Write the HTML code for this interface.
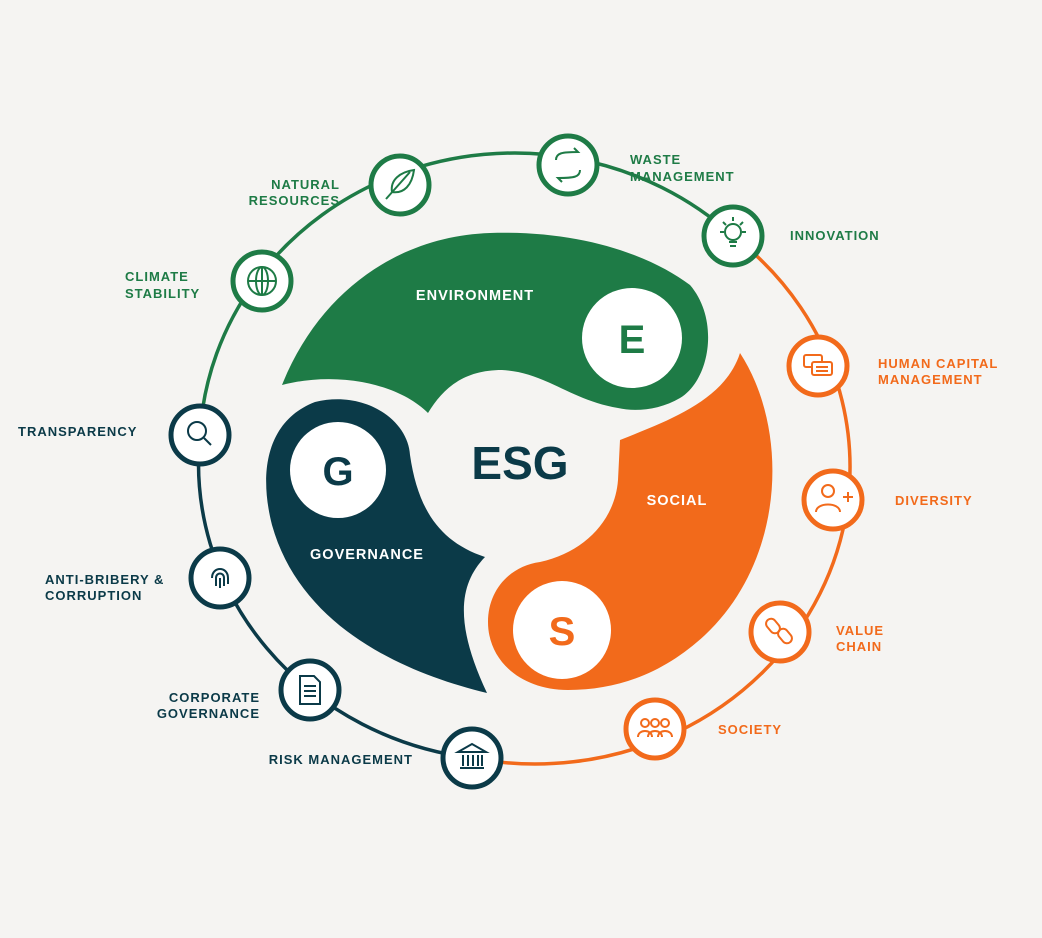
<!DOCTYPE html>
<html><head><meta charset="utf-8"><style>
html,body{margin:0;padding:0;background:#f5f4f2;}
svg{display:block}
.l{font-family:"Liberation Sans",sans-serif;font-weight:bold;font-size:13px;letter-spacing:1px}
.g{fill:#1e7b46}.o{fill:#f26a1b}.d{fill:#0b3a48}
</style></head><body>
<svg width="1042" height="938" viewBox="0 0 1042 938" xmlns="http://www.w3.org/2000/svg">
<rect width="1042" height="938" fill="#f5f4f2"/>
<!-- ring arcs -->
<path d="M200,435 A315,297 0 0 1 733,236" fill="none" stroke="#1e7b46" stroke-width="3.5"/>
<path d="M733,236 A315,297 0 0 1 472,758" fill="none" stroke="#f26a1b" stroke-width="3.5"/>
<path d="M472,758 A315,297 0 0 1 200,435" fill="none" stroke="#0b3a48" stroke-width="3.5"/>

<!-- blobs -->
<path d="M282,385 C320,290 400,236 490,233 C580,230 650,255 690,285 C720,320 710,380 680,398 C660,410 635,412 618,408 C570,400 545,372 502,370 C462,370 442,390 428,413 C400,385 340,370 282,385 Z" fill="#1e7b46"/>
<circle cx="632" cy="338" r="50" fill="#fff"/>
<path d="M740,353 C790,430 785,560 705,635 C665,672 620,690 568,690 C520,690 488,660 488,622 C488,590 510,566 540,562 C585,552 615,520 618,480 L620,440 C670,420 725,400 740,353 Z" fill="#f26a1b"/>
<circle cx="562" cy="630" r="49" fill="#fff"/>
<path d="M487,693 C400,672 300,625 272,525 C258,470 268,420 315,402 C365,390 408,420 410,455 C418,510 440,542 485,557 C458,585 455,625 487,693 Z" fill="#0b3a48"/>
<circle cx="338" cy="470" r="48" fill="#fff"/>

<g font-family="Liberation Sans,sans-serif" font-weight="bold" text-anchor="middle">
<text x="632" y="353" font-size="40" class="g">E</text>
<text x="562" y="645" font-size="40" class="o">S</text>
<text x="338" y="485" font-size="40" class="d">G</text>
<text x="520" y="479" font-size="46" class="d">ESG</text>
<text x="475" y="300" font-size="14.5" fill="#fff" letter-spacing="1">ENVIRONMENT</text>
<text x="677" y="505" font-size="14.5" fill="#fff" letter-spacing="1">SOCIAL</text>
<text x="367" y="559" font-size="14.5" fill="#fff" letter-spacing="1">GOVERNANCE</text>
</g>

<!-- nodes -->
<g fill="#fff" stroke-width="5">
<circle cx="262" cy="281" r="29" stroke="#1e7b46"/>
<circle cx="400" cy="185" r="29" stroke="#1e7b46"/>
<circle cx="568" cy="165" r="29" stroke="#1e7b46"/>
<circle cx="733" cy="236" r="29" stroke="#1e7b46"/>
<circle cx="818" cy="366" r="29" stroke="#f26a1b"/>
<circle cx="833" cy="500" r="29" stroke="#f26a1b"/>
<circle cx="780" cy="632" r="29" stroke="#f26a1b"/>
<circle cx="655" cy="729" r="29" stroke="#f26a1b"/>
<circle cx="472" cy="758" r="29" stroke="#0b3a48"/>
<circle cx="310" cy="690" r="29" stroke="#0b3a48"/>
<circle cx="220" cy="578" r="29" stroke="#0b3a48"/>
<circle cx="200" cy="435" r="29" stroke="#0b3a48"/>
</g>

<!-- icons -->
<g fill="none" stroke-width="2">
<g stroke="#1e7b46">
<circle cx="262" cy="281" r="14"/><ellipse cx="262" cy="281" rx="6" ry="14"/><line x1="248" y1="281" x2="276" y2="281"/><line x1="262" y1="267" x2="262" y2="295"/>
<path d="M386,199 L410,172 M392,192 C390,180 400,172 414,170 C412,185 404,194 392,192"/>
<path d="M556,160 C556,153 562,152 578,152 l-4,-4 M580,170 C580,177 574,178 558,178 l4,4"/>
<circle cx="733" cy="232" r="8"/><path d="M729,242 h8 M730,246 h6 M733,217 v4 M720,232 h4 M742,232 h4 M723,222 l3,3 M743,222 l-3,3"/>
</g>
<g stroke="#f26a1b">
<rect x="804" y="355" width="18" height="12" rx="2"/><rect x="812" y="362" width="20" height="13" rx="2" fill="#fff"/><path d="M816,367 h12 M816,371 h12"/>
<circle cx="828" cy="491" r="6"/><path d="M816,512 C816,502 840,502 840,512 M843,497 h10 M848,492 v10"/>
<rect x="768" y="618" width="10" height="16" rx="5" transform="rotate(-40 773 626)"/><rect x="780" y="628" width="10" height="16" rx="5" transform="rotate(-40 785 636)"/>
<circle cx="645" cy="723" r="4"/><circle cx="655" cy="723" r="4"/><circle cx="665" cy="723" r="4"/><path d="M638,737 c0,-8 14,-8 14,0 M648,737 c0,-8 14,-8 14,0 M658,737 c0,-8 14,-8 14,0"/>
</g>
<g stroke="#0b3a48">
<circle cx="197" cy="431" r="9"/><line x1="204" y1="438" x2="211" y2="445"/>
<path d="M212,578 c0,-12 16,-12 16,0 v6 M216,586 v-8 c0,-6 8,-6 8,0 v8 M220,578 v10"/>
<path d="M300,676 h14 l6,6 v22 h-20 z M304,686 h12 M304,691 h12 M304,696 h12"/>
<path d="M458,752 l14,-8 14,8 z M460,768 h24 M463,755 v11 M468,755 v11 M473,755 v11 M478,755 v11 M482,755 v11"/>
</g>
</g>

<!-- labels -->
<g class="l">
<text x="340" y="189" text-anchor="end" class="g">NATURAL</text>
<text x="340" y="205" text-anchor="end" class="g">RESOURCES</text>
<text x="125" y="281" class="g">CLIMATE</text>
<text x="125" y="298" class="g">STABILITY</text>
<text x="630" y="164" class="g">WASTE</text>
<text x="630" y="181" class="g">MANAGEMENT</text>
<text x="790" y="240" class="g">INNOVATION</text>
<text x="878" y="368" class="o">HUMAN CAPITAL</text>
<text x="878" y="384" class="o">MANAGEMENT</text>
<text x="895" y="505" class="o">DIVERSITY</text>
<text x="836" y="635" class="o">VALUE</text>
<text x="836" y="651" class="o">CHAIN</text>
<text x="718" y="734" class="o">SOCIETY</text>
<text x="413" y="764" text-anchor="end" class="d">RISK MANAGEMENT</text>
<text x="260" y="702" text-anchor="end" class="d">CORPORATE</text>
<text x="260" y="718" text-anchor="end" class="d">GOVERNANCE</text>
<text x="45" y="584" class="d">ANTI-BRIBERY &amp;</text>
<text x="45" y="600" class="d">CORRUPTION</text>
<text x="18" y="436" class="d">TRANSPARENCY</text>
</g>
</svg>
</body></html>
